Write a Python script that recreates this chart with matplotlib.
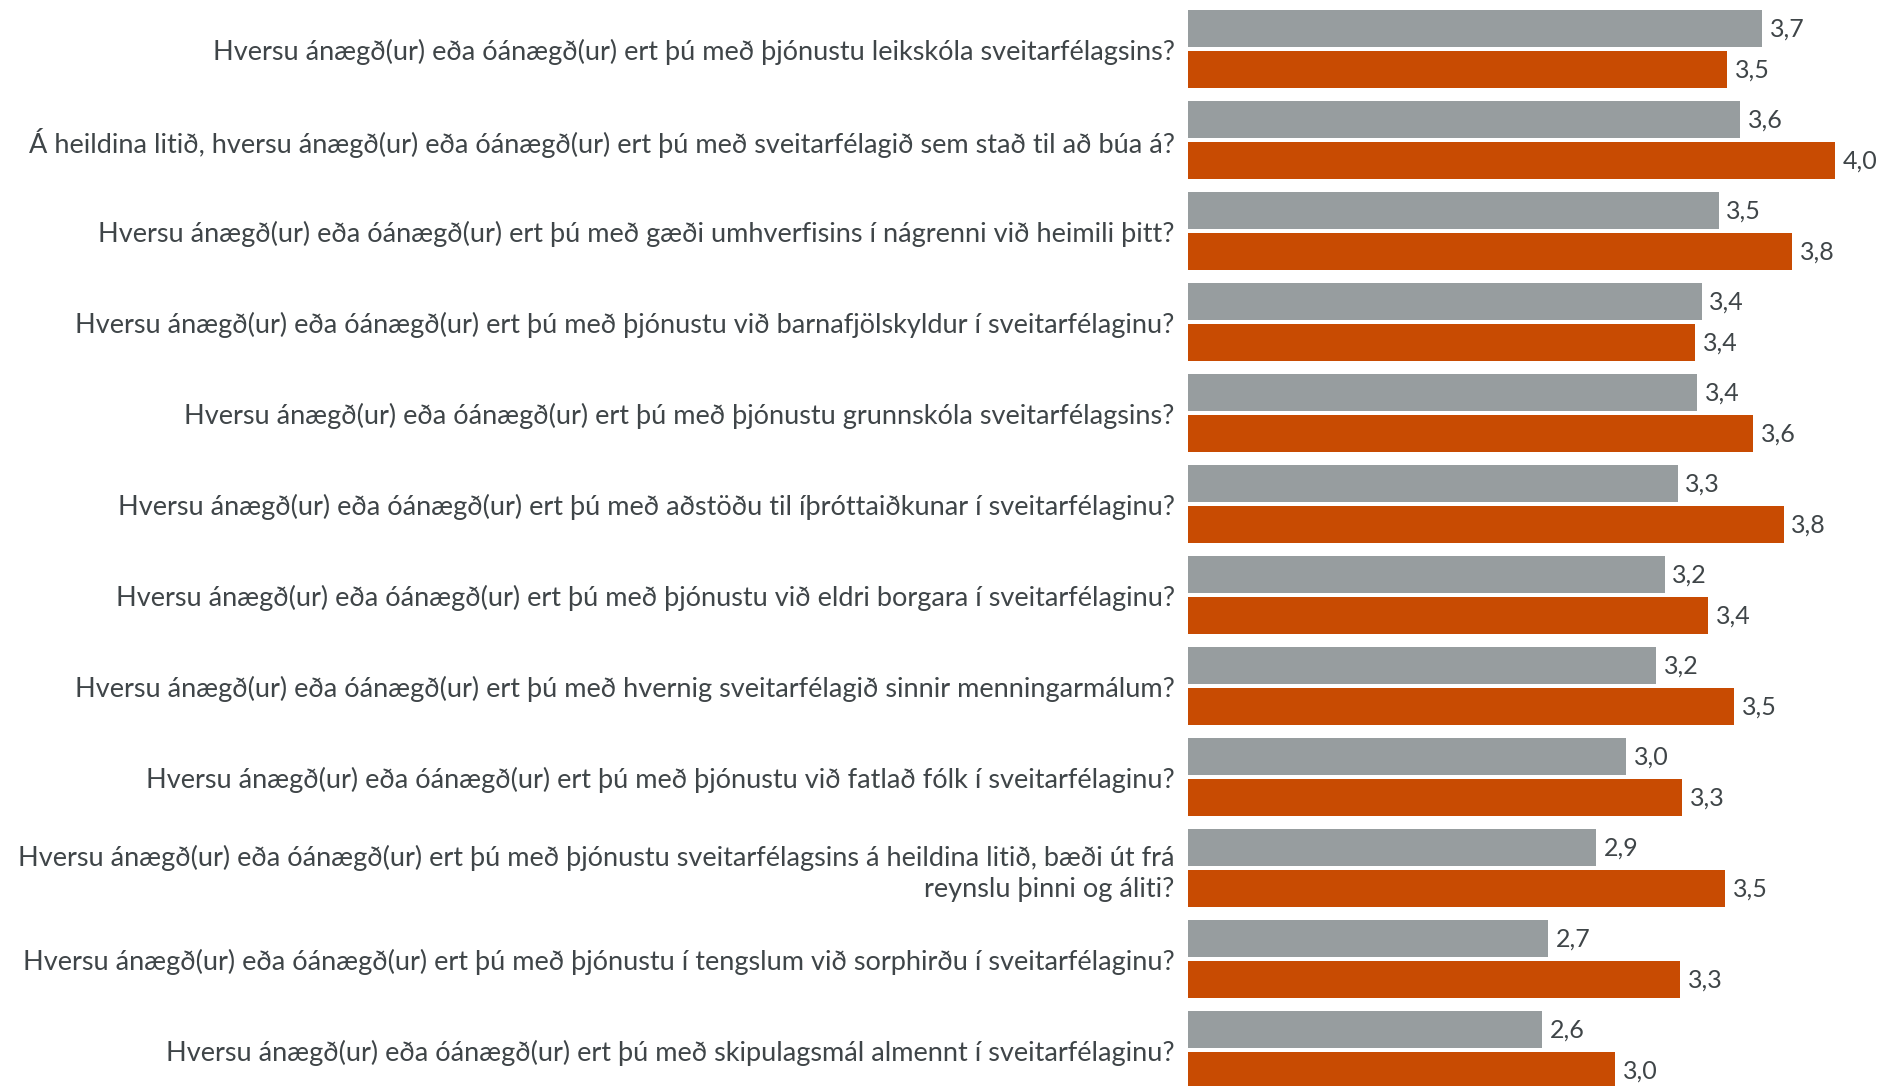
import numpy as np
import matplotlib.pyplot as plt

plt.rcParams['font.family'] = ['Lato', 'DejaVu Sans']

# spurningar, efst til neðst
questions = [
    "Hversu ánægð(ur) eða óánægð(ur) ert þú með þjónustu leikskóla sveitarfélagsins?",
    "Á heildina litið, hversu ánægð(ur) eða óánægð(ur) ert þú með sveitarfélagið sem stað til að búa á?",
    "Hversu ánægð(ur) eða óánægð(ur) ert þú með gæði umhverfisins í nágrenni við heimili þitt?",
    "Hversu ánægð(ur) eða óánægð(ur) ert þú með þjónustu við barnafjölskyldur í sveitarfélaginu?",
    "Hversu ánægð(ur) eða óánægð(ur) ert þú með þjónustu grunnskóla sveitarfélagsins?",
    "Hversu ánægð(ur) eða óánægð(ur) ert þú með aðstöðu til íþróttaiðkunar í sveitarfélaginu?",
    "Hversu ánægð(ur) eða óánægð(ur) ert þú með þjónustu við eldri borgara í sveitarfélaginu?",
    "Hversu ánægð(ur) eða óánægð(ur) ert þú með hvernig sveitarfélagið sinnir menningarmálum?",
    "Hversu ánægð(ur) eða óánægð(ur) ert þú með þjónustu við fatlað fólk í sveitarfélaginu?",
    "Hversu ánægð(ur) eða óánægð(ur) ert þú með þjónustu sveitarfélagsins á heildina litið, bæði út frá\nreynslu þinni og áliti?",
    "Hversu ánægð(ur) eða óánægð(ur) ert þú með þjónustu í tengslum við sorphirðu í sveitarfélaginu?",
    "Hversu ánægð(ur) eða óánægð(ur) ert þú með skipulagsmál almennt í sveitarfélaginu?",
]
# grá súla (samanburður) og appelsínugul súla (sveitarfélagið)
samanburdur = [3.66, 3.56, 3.46, 3.38, 3.36, 3.27, 3.21, 3.17, 3.03, 2.89, 2.67, 2.64]
sveitarfelag = [3.50, 4.00, 3.80, 3.35, 3.62, 3.76, 3.41, 3.53, 3.29, 3.49, 3.28, 2.98]

GRAY = "#979d9f"
ORANGE = "#c84b02"
TEXT = "#3f4548"

fig = plt.figure(figsize=(18.82, 10.86), dpi=100)
ax = fig.add_axes([1188 / 1882, 0, 1 - 1188 / 1882, 1])

y = np.arange(len(questions))
h = 0.41
off = 0.225
ax.barh(y - off, samanburdur, height=h, color=GRAY, left=0)
ax.barh(y + off, sveitarfelag, height=h, color=ORANGE, left=0)

for yi, v in zip(y - off, samanburdur):
    ax.text(v + 0.035, yi, f"{v:.1f}".replace(".", ","), va="center", ha="left",
            fontsize=18, color=TEXT)
for yi, v in zip(y + off, sveitarfelag):
    ax.text(v + 0.035, yi, f"{v:.1f}".replace(".", ","), va="center", ha="left",
            fontsize=18, color=TEXT)

ax.set_xlim(1, 4.216)
ax.set_ylim(11.393, -0.541)
ax.set_yticks(y)
ax.set_yticklabels(questions, fontsize=19.5, color=TEXT, linespacing=1.3)
ax.tick_params(axis="y", length=0, pad=9.5)
ax.set_xticks([])
for s in ax.spines.values():
    s.set_visible(False)

plt.savefig("out.png", dpi=100)
